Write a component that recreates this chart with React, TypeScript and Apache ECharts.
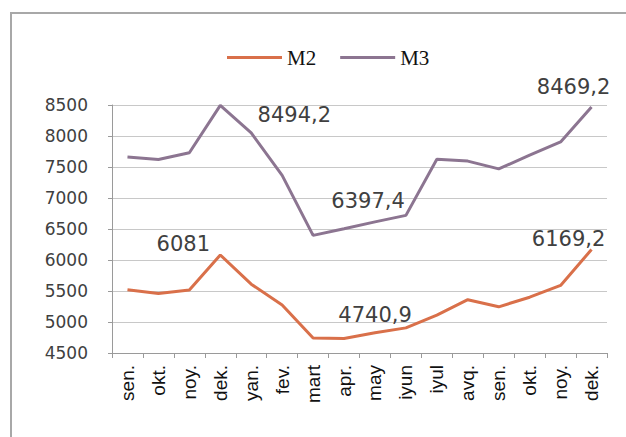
import React, { useEffect, useRef } from "react";
import * as echarts from "echarts";

const categories = ["sen.", "okt.", "noy.", "dek.", "yan.", "fev.", "mart", "apr.", "may", "iyun", "iyul", "avq.", "sen.", "okt.", "noy.", "dek."];
const m2Values = [5520, 5460, 5515, 6081, 5610, 5275, 4740.9, 4735, 4825, 4905, 5110, 5360, 5245, 5400, 5590, 6169.2];
const m3Values = [7660, 7620, 7730, 8494.2, 8050, 7365, 6397.4, 6505, 6615, 6720, 7625, 7595, 7470, 7690, 7905, 8469.2];
const yTicks = { min: 4500, max: 8500, interval: 500 };

// labelled points: index -> offset of label centre from the point
const m2Labels: Record<number, [number, number]> = { 3: [-37, -11], 6: [62, -23], 15: [-23, -11] };
const m3Labels: Record<number, [number, number]> = { 3: [74, 10], 6: [55, -34], 15: [-18, -20] };

const fmt = (v: number) => String(v).replace(".", ",");

function buildData(values: number[], labels: Record<number, [number, number]>) {
  return values.map((v, i) => {
    const off = labels[i];
    if (!off) return v;
    return {
      value: v,
      label: {
        show: true,
        position: "inside",
        offset: off,
        formatter: () => fmt(v),
        fontFamily: "DejaVu Sans",
        fontSize: 21,
        color: "#404040",
      },
    };
  });
}

export default function App() {
  const ref = useRef<HTMLDivElement>(null);
  useEffect(() => {
    if (!ref.current) return;
    const chart = echarts.init(ref.current, undefined, { renderer: "svg" });
    chart.setOption({
      animation: false,
      backgroundColor: "#ffffff",
      graphic: [
        {
          type: "polyline",
          shape: { points: [[11, 437], [11, 13], [626, 13]] },
          style: { stroke: "#a8a8a8", lineWidth: 2, fill: "none" },
          silent: true,
        },
      ],
      legend: {
        left: 222,
        top: 42,
        icon: "rect",
        itemWidth: 55,
        itemHeight: 3,
        itemGap: 24,
        textStyle: { fontFamily: "Liberation Serif", fontSize: 21, color: "#111" },
        data: ["M2", "M3"],
      },
      grid: { left: 112, right: 19, top: 105, bottom: 84 },
      xAxis: {
        type: "category",
        data: categories,
        boundaryGap: true,
        axisLine: { lineStyle: { color: "#9a9a9a", width: 1 } },
        axisTick: { show: true, length: 5, alignWithLabel: false, lineStyle: { color: "#9a9a9a" } },
        axisLabel: {
          rotate: 90,
          margin: 12,
          interval: 0,
          fontFamily: "Liberation Sans",
          fontSize: 19,
          color: "#111",
        },
      },
      yAxis: {
        type: "value",
        min: yTicks.min,
        max: yTicks.max,
        interval: yTicks.interval,
        axisLine: { show: true, lineStyle: { color: "#9a9a9a" } },
        axisTick: { show: true, length: 4, lineStyle: { color: "#9a9a9a" } },
        splitLine: { lineStyle: { color: "#c8c8c8", width: 1 } },
        axisLabel: {
          margin: 24,
          fontFamily: "DejaVu Sans",
          fontSize: 17,
          color: "#404040",
          formatter: (v: number) => String(v),
        },
      },
      series: [
        {
          name: "M2",
          type: "line",
          data: buildData(m2Values, m2Labels),
          symbol: "circle",
          symbolSize: 0.01,
          showSymbol: true,
          color: "#d9704a",
          lineStyle: { color: "#d9704a", width: 3 },
          label: { show: false },
        },
        {
          name: "M3",
          type: "line",
          data: buildData(m3Values, m3Labels),
          symbol: "circle",
          symbolSize: 0.01,
          showSymbol: true,
          color: "#8c7591",
          lineStyle: { color: "#8c7591", width: 3 },
          label: { show: false },
        },
      ],
    });
    return () => chart.dispose();
  }, []);
  return (
    <div
      ref={ref}
      style={{ position: "fixed", left: 0, top: 0, width: 626, height: 437, background: "#fff" }}
    />
  );
}
